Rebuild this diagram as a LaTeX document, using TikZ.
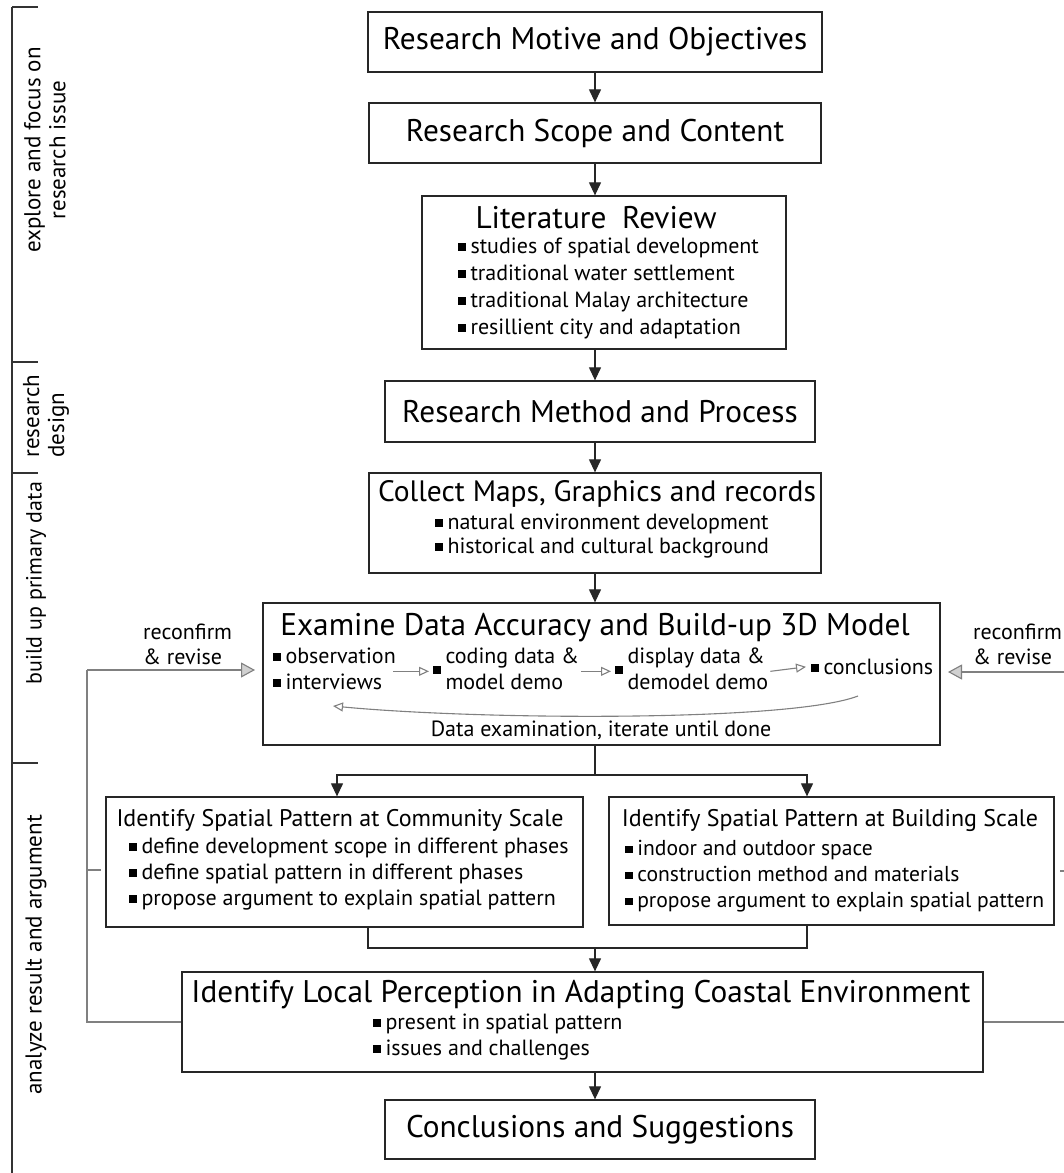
\documentclass[tikz,border=0pt]{standalone}
\usepackage{fontspec}
\setmainfont{PT Sans}
\usetikzlibrary{arrows.meta}
% small square bullet
\newcommand\sqb{\rule[0.1em]{0.36em}{0.36em}\hspace{0.2em}}
\newcommand\fsTitle{\fontsize{31.3}{35}\selectfont}
\newcommand\fsSub{\fontsize{24}{28}\selectfont}
\newcommand\fsBody{\fontsize{22}{26}\selectfont}
\newcommand\fsSide{\fontsize{23}{25}\selectfont}
\begin{document}
\begin{tikzpicture}[x=1pt,y=-1pt,
  frame/.style={draw=black!85, line width=1.3pt, inner sep=0pt, rectangle},
  link/.style={draw=black!85, line width=1.2pt},
  flow/.style={link, -{Triangle[width=12pt,length=13pt]}},
  fb/.style={draw=black!50, line width=1.1pt},
  fbtip/.style={fb, -{Triangle[width=15pt,length=14pt,fill=black!18]}},
  sarr/.style={fb, -{Triangle[width=9pt,length=10pt,fill=white]}},
  ttl/.style={inner sep=0pt, font=\fsTitle},
  sub/.style={inner sep=0pt, font=\fsSub},
  body/.style={inner sep=0pt, font=\fsBody, anchor=mid west},
  side/.style={inner sep=0pt, font=\fsSide, rotate=90, align=center},
  bar/.style={draw=black!80, line width=1.1pt}]
\clip (0,0) rectangle (1064,1173);
\fill[white] (0,0) rectangle (1064,1173);

% phase bar on the left
\draw[bar] (12,7) -- (12,1173);
\foreach \yy in {7,362,473,763} \draw[bar] (12,\yy) -- (38,\yy);
\node[side] (p1) at (45,150) {explore and focus on\\research issue};
\node[side, align=left] (p2) at (46,416) {research\\design};
\node[side, font=\fontsize{22}{25}\selectfont] (p3) at (36,583) {build up primary data};
\node[side] (p4) at (36,955) {analyze result and argument};

% main boxes
\node[frame, minimum width=454pt, minimum height=60pt, font=\fsTitle] (b1) at (595,42) {Research Motive and Objectives};
\node[frame, minimum width=452pt, minimum height=60pt, font=\fsTitle] (b2) at (595,133) {Research Scope and Content};
\node[frame, minimum width=364pt, minimum height=153pt] (b3) at (604,272.5) {};
\node[frame, minimum width=430pt, minimum height=61pt, font=\fsTitle] (b4) at (600,411.5) {Research Method and Process};
\node[frame, minimum width=452pt, minimum height=100pt] (b5) at (595,523) {};
\node[frame, minimum width=677pt, minimum height=142pt] (b6) at (601.5,674) {};
\node[frame, minimum width=477pt, minimum height=130pt] (b7) at (344.5,862) {};
\node[frame, minimum width=445pt, minimum height=128pt] (b8) at (831.5,861) {};
\node[frame, minimum width=801pt, minimum height=100pt] (b9) at (582.5,1022) {};
\node[frame, minimum width=430pt, minimum height=59pt, font=\fsTitle] (b10) at (600,1129.5) {Conclusions and Suggestions};

% literature review
\node[ttl] (t3) at (596,218) {Literature\hspace{0.5em}Review};
\node[body] (l31) at (458,251) {\sqb studies of spatial development};
\node[body] (l32) at (458,278) {\sqb traditional water settlement};
\node[body] (l33) at (458,305) {\sqb traditional Malay architecture};
\node[body] (l34) at (458,332) {\sqb resillient city and adaptation};

% collecting material
\node[inner sep=0pt, font=\fontsize{29.5}{33}\selectfont] (t5) at (597,494) {Collect Maps, Graphics and records};
\node[body] (l51) at (435,527) {\sqb natural environment development};
\node[body] (l52) at (435,551) {\sqb historical and cultural background};

% examination and model
\node[ttl] (t6) at (595,628) {Examine Data Accuracy and Build-up 3D Model};
\node[body] (ob) at (273,661) {\sqb observation};
\node[body] (iv) at (273,687) {\sqb interviews};
\node[body] (cd) at (433,674) {\sqb\begin{tabular}[c]{@{}l@{}}coding data \&\\model demo\end{tabular}};
\node[body] (dd) at (615,674) {\sqb\begin{tabular}[c]{@{}l@{}}display data \&\\demodel demo\end{tabular}};
\node[body] (cc) at (811,672) {\sqb conclusions};
\node[inner sep=0pt, font=\fsBody] (it) at (601,730) {Data examination, iterate until done};
\draw[sarr] ([xshift=-3pt]ob.east |- cd.west) -- ([xshift=-4pt]cd.west);
\draw[sarr] ([xshift=2pt]cd.east) -- ([xshift=-4pt]dd.west);
\draw[sarr] ([xshift=2pt]dd.east) -- ([xshift=-5pt]cc.west);
\coordinate (c0) at (858,696);
\coordinate (c1) at (333,706);
\draw[fb, -{Triangle[open,width=9pt,length=10pt]}] (c0) .. controls (790,722) and (480,720) .. (c1);

% community and building scale
\node[sub] (t7) at (340,820) {Identify Spatial Pattern at Community Scale};
\node[body] (l71) at (129,851) {\sqb define development scope in different phases};
\node[body] (l72) at (129,877) {\sqb define spatial pattern in different phases};
\node[body] (l73) at (129,903) {\sqb propose argument to explain spatial pattern};
\node[sub] (t8) at (830,820) {Identify Spatial Pattern at Building Scale};
\node[body, font=\fontsize{21.6}{26}\selectfont] (l81) at (625,853) {\sqb indoor and outdoor space};
\node[body, font=\fontsize{21.6}{26}\selectfont] (l82) at (625,879) {\sqb construction method and materials};
\node[body, font=\fontsize{21.6}{26}\selectfont] (l83) at (625,905) {\sqb propose argument to explain spatial pattern};

% local perception
\node[ttl] (t9) at (581,995) {Identify Local Perception in Adapting Coastal Environment};
\node[body] (l91) at (373,1027) {\sqb present in spatial pattern};
\node[body] (l92) at (373,1053) {\sqb issues and challenges};

% reconfirm labels
\node[inner sep=0pt, font=\fontsize{22}{25}\selectfont, align=left, anchor=west] (r1) at (143,644) {reconfirm\\\& revise};
\node[inner sep=0pt, font=\fontsize{22}{25}\selectfont, align=left, anchor=west] (r2) at (973,644) {reconfirm\\\& revise};

% main flow
\coordinate (sp) at (595,775);
\coordinate (mg) at (595,948);
\draw[flow] (b1.south -| sp) -- (b2.north -| sp);
\draw[flow] (b2.south -| sp) -- (b3.north -| sp);
\draw[flow] (b3.south -| sp) -- (b4.north -| sp);
\draw[flow] (b4.south -| sp) -- (b5.north -| sp);
\draw[flow] (b5.south -| sp) -- (b6.north -| sp);
\draw[link] (b6.south -| sp) -- (sp);
\draw[flow] (sp) -| ([xshift=-7.5pt]b7.north);
\draw[flow] (sp) -| ([xshift=-24.5pt]b8.north);
\draw[link] ([xshift=23.5pt]b7.south) |- (mg) -| ([xshift=-24.5pt]b8.south);
\draw[flow] (mg) -- (b9.north -| mg);
\draw[flow] (b9.south -| mg) -- (b10.north -| mg);

% feedback loops
\coordinate (la) at (87,670);
\coordinate (lin) at (255,670);
\coordinate (ra) at (1070,672);
\coordinate (rin) at (948,672);
\draw[fb] (b9.west) -| (la);
\draw[fbtip] (la) -- (lin);
\draw[fb] (87,870) -- (101,870);
\draw[fb] (b9.east) -- (1070,1022) -- (ra);
\draw[fbtip] (ra) -- (rin);
\draw[fb] (1060,871) -- (1064,871);
\end{tikzpicture}
\end{document}
